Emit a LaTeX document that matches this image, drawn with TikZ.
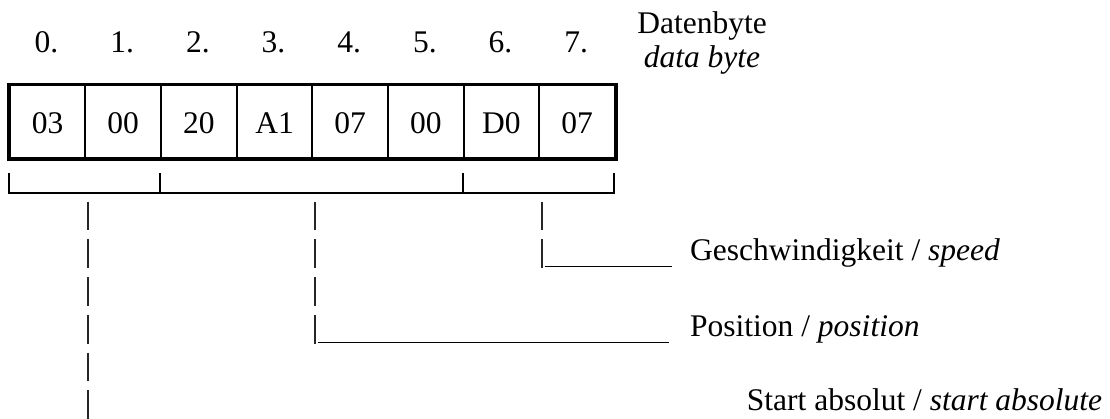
\documentclass[tikz,border=0pt]{standalone}
\usepackage{fontspec}
\setmainfont{Liberation Serif}
\begin{document}
\begin{tikzpicture}[x=1pt,y=-1pt,
  font=\fontsize{31.5}{36}\selectfont,
  cell/.style={draw, line width=2pt, minimum width=75.66pt, minimum height=72.7pt, inner sep=0pt, anchor=north west, text height=20pt, text depth=0pt},
  idx/.style={anchor=base, inner sep=0pt},
  pipe/.style={line width=1.6pt, draw=black!85, dash pattern=on 28.7pt off 9pt},
  under/.style={line width=1.4pt},
  brack/.style={line width=2.3pt},
  lbl/.style={anchor=base west, inner sep=0pt}]
\useasboundingbox (0,0) rectangle (1110,418);
% cells
\foreach \t [count=\i from 0] in {03,00,20,A1,07,00,D0,07}{
  \node[cell] (c\i) at (8.7+75.66*\i,84.3) {\raisebox{-1.5pt}{\t}};
  \node[idx] (i\i) at (8.7+75.66*\i+37.83,52) {\i.};
}
\draw[line width=3.4pt] (c0.north west) rectangle (c7.south east);
\node[anchor=base, inner sep=0pt] (db) at (702,33) {Datenbyte};
\node[anchor=base, inner sep=0pt] (dbe) at (702,67) {\itshape data byte};
% brackets
\coordinate (b0) at (8.7,192.7);
\coordinate (b1) at (160,192.7);
\coordinate (b2) at (462.7,192.7);
\coordinate (b3) at (614,192.7);
\draw[brack] (b0) ++(0,-19.7) -- (b0) -- (b3) -- ++(0,-19.7);
\draw[brack] (b1) -- ++(0,-19.7);
\draw[brack] (b2) -- ++(0,-19.7);
% labels
\node[lbl] (speed) at (690,260) {Geschwindigkeit / \textit{speed}};
\node[lbl] (pos) at (690,336.7) {Position / \textit{position}};
\node[lbl] (start) at (746.7,410) {Start absolut / \textit{start absolute}};
% pipes
\coordinate (p0t) at (87.7,201.7);
\coordinate (p0b) at (87.7,420);
\coordinate (p1t) at (315,201.7);
\coordinate (p1b) at (315,343.5);
\coordinate (p2t) at (541.7,201.7);
\coordinate (p2b) at (541.7,268);
\draw[pipe] (p0t) -- (p0b);
\draw[pipe] (p1t) -- (p1b);
\draw[pipe] (p2t) -- (p2b);
\coordinate (u1e) at (669,342.5);
\coordinate (u2e) at (672,266.5);
\draw[under] (317.5,342.5) -- (u1e);
\draw[under] (544.5,266.5) -- (u2e);
\end{tikzpicture}
\end{document}
